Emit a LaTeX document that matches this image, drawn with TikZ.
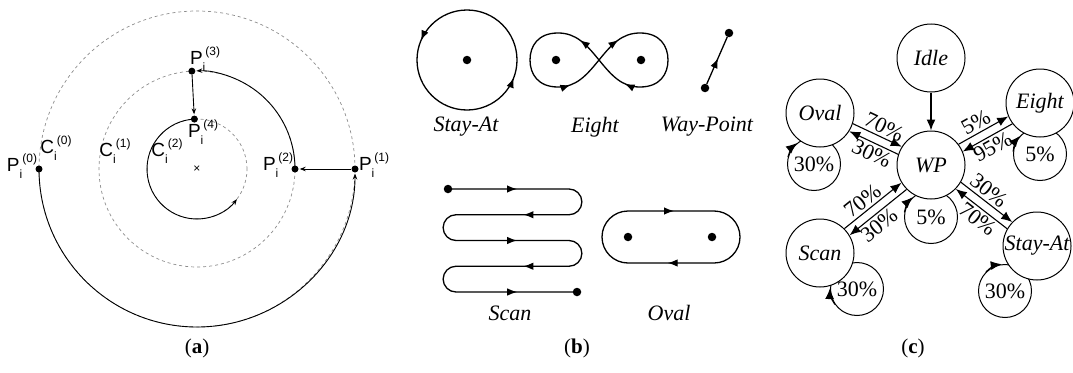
\documentclass[tikz,border=0pt]{standalone}
\usepackage{fontspec}
\setmainfont{Liberation Serif}
\setsansfont{Liberation Sans}
\usetikzlibrary{arrows.meta,calc,positioning,decorations.markings}

\tikzstyle{pointdot} = [circle, fill=black, inner sep=0pt, minimum size=7pt]
\tikzstyle{bigdot} = [circle, fill=black, inner sep=0pt, minimum size=8.5pt]
\tikzstyle{guide} = [draw, color=black!45, line width=0.7pt, dash pattern=on 3pt off 3pt]
\tikzstyle{track} = [draw, line width=0.9pt, -{Stealth[length=6pt,width=4.5pt]}, shorten >=1pt]
\tikzstyle{plabel} = [inner sep=0pt, font=\sffamily\fontsize{19}{19}\selectfont]
\tikzstyle{flight} = [draw, line width=1.3pt]
\tikzstyle{caption} = [font=\fontsize{22}{26}\selectfont\itshape]
\tikzstyle{statenode} = [draw, circle, fill=white, line width=1pt, minimum size=68pt,
  inner sep=0pt, font=\fontsize{22}{26}\selectfont\itshape]
\tikzstyle{loopstate} = [draw, circle, line width=1pt, minimum size=53pt, inner sep=0pt]
\tikzstyle{line} = [draw, line width=1.1pt, -{Latex[length=11pt,width=9pt]}]
\tikzstyle{prob} = [sloped, inner sep=2.5pt]
\tikzstyle{panel} = [font=\fontsize{21}{24}\selectfont]
\tikzset{arrowat/.style={postaction={decorate, decoration={markings,
  mark=at position #1 with {\arrow{Latex[length=10pt,width=7.5pt]}}}}}}
% point label with subscript i and an index on top
\newcommand{\pidx}[2]{#1\raisebox{-0.36em}{\fontsize{12}{12}\selectfont i}%
  \raisebox{0.48em}{\fontsize{12}{12}\selectfont(#2)}}
% arrow head of a self loop, drawn on the loop circle
\newcommand{\looptip}[3]{\path [line] (#1.#2) arc[start angle=#2, end angle=#3, radius=27pt];}

\begin{document}
\begin{tikzpicture}[x=1pt, y=-1pt, font=\fontsize{22}{26}\selectfont]
  \useasboundingbox (0,0) rectangle (1073,372);

  % circles of panel a
  \node[inner sep=0pt, font=\sffamily\fontsize{12}{12}\selectfont] (CENTER) at (197,169) {×};
  \path[guide] (CENTER.center) circle[radius=158pt];
  \path[guide] (CENTER.center) circle[radius=98pt];
  \path[guide] (CENTER.center) circle[radius=50pt];

  \node[pointdot] (P0) at ($(CENTER.center)+(180:158pt)$) {};
  \node[pointdot] (P1) at ($(CENTER.center)+(0:158pt)$) {};
  \node[pointdot] (P2) at ($(CENTER.center)+(0:98pt)$) {};
  \node[pointdot] (P3) at ($(CENTER.center)+(93:98pt)$) {};
  \node[pointdot] (P4) at ($(CENTER.center)+(93:50pt)$) {};

  \path[track, shorten >=4.5pt] (P0.center) arc[start angle=180, end angle=360, radius=158pt];
  \path[track] (P1) -- (P2);
  \path[track, shorten >=4.5pt] (P2.center) arc[start angle=0, end angle=93, radius=98pt];
  \path[track] (P3) -- (P4);
  \path[track, shorten >=0pt] (P4.center) arc[start angle=93, end angle=323, radius=50pt];

  \node[plabel] (LP0) at (22,166) {\pidx{P}{0}};
  \node[plabel] (LP1) at (374,165) {\pidx{P}{1}};
  \node[plabel] (LP2) at (278,165) {\pidx{P}{2}};
  \node[plabel] (LP3) at (205,59) {\pidx{P}{3}};
  \node[plabel] (LP4) at (203,132) {\pidx{P}{4}};
  \node[plabel] (LC0) at (56,148) {\pidx{C}{0}};
  \node[plabel] (LC1) at (115,151) {\pidx{C}{1}};
  \node[plabel] (LC2) at (167,151) {\pidx{C}{2}};

  % trajectory shapes of panel b
  \node[bigdot] (STAYDOT) at (467,60) {};
  \path[flight, arrowat=137pt, arrowat=296pt] ($(STAYDOT.center)+(0:50pt)$)
    arc[start angle=0, end angle=360, radius=50pt];

  \node[bigdot] (EIGHTL) at (556,60) {};
  \node[bigdot] (EIGHTR) at (641,60) {};
  \path[flight, arrowat=28pt, arrowat=155pt, arrowat=218pt, arrowat=342pt] (599,60)
    .. controls (612,44) and (622,33) .. (640,33) .. controls (660,33) and (668,46) .. (668,60)
    .. controls (668,74) and (660,87) .. (640,87) .. controls (622,87) and (612,76) .. (599,60)
    .. controls (586,44) and (576,33) .. (558,33) .. controls (538,33) and (530,46) .. (530,60)
    .. controls (530,74) and (538,87) .. (558,87) .. controls (576,87) and (586,76) .. (599,60);

  \node[bigdot] (WPA) at (705,88) {};
  \node[bigdot] (WPB) at (729,33) {};
  \path[flight, arrowat=0.55] (WPA) -- (WPB);

  \node[caption] (STAYCAP) at (466,127) {Stay-At};
  \node[caption] (EIGHTCAP) at (595,127) {Eight};
  \node[caption] (WAYCAP) at (707,127) {Way-Point};

  \node[bigdot] (SCANA) at (448,189) {};
  \node[bigdot] (SCANB) at (577,292) {};
  \path[flight, arrowat=69pt, arrowat=207pt, arrowat=376pt, arrowat=514pt, arrowat=683pt]
    (SCANA.center) -- (569,189) arc[start angle=90, end angle=-90, radius=12.875pt]
    -- (456,214.75) arc[start angle=90, end angle=270, radius=12.875pt]
    -- (569,240.5) arc[start angle=90, end angle=-90, radius=12.875pt]
    -- (456,266.25) arc[start angle=90, end angle=270, radius=12.875pt]
    -- (SCANB.center);

  \node[bigdot] (OVALL) at (628,237) {};
  \node[bigdot] (OVALR) at (712,237) {};
  \path[flight, arrowat=46pt, arrowat=214pt] (628,211) -- (714,211)
    arc[start angle=90, end angle=-90, radius=26pt] -- (628,263)
    arc[start angle=270, end angle=90, radius=26pt] -- cycle;

  \node[caption] (SCANCAP) at (510,313) {Scan};
  \node[caption] (OVALCAP) at (669,313) {Oval};

  % state machine of panel c
  \node[loopstate] (OVALLOOP) at (814,164) {30\%};
  \node[loopstate] (WPLOOP) at (931,217) {5\%};
  \node[loopstate] (EIGHTLOOP) at (1040,154) {5\%};
  \node[loopstate] (SCANLOOP) at (857,289) {30\%};
  \node[loopstate] (STAYLOOP) at (1005,291) {30\%};

  \node[statenode] (IDLE) at (931,58) {Idle};
  \node[statenode] (WP) at (931,165) {WP};
  \node[statenode] (OVAL) at (820,113) {Oval};
  \node[statenode] (EIGHT) at (1040,103) {Eight};
  \node[statenode] (SCAN) at (820,253) {Scan};
  \node[statenode] (STAYAT) at (1037,246) {Stay-At};

  \path [line, line width=1.5pt] (IDLE) -- (WP);
  \path [line] (OVAL.-18) -- node[prob, above, pos=0.55] {70\%} (WP.148);
  \path [line] (WP.162) -- node[prob, below, pos=0.45] {30\%} (OVAL.-32);
  \path [line] (WP.37) -- node[prob, above, pos=0.45] {5\%} (EIGHT.203);
  \path [line] (EIGHT.217) -- node[prob, below, pos=0.5] {95\%} (WP.23);
  \path [line] (SCAN.45) -- node[prob, above, pos=0.43] {70\%} (WP.211);
  \path [line] (WP.225) -- node[prob, below, pos=0.6] {30\%} (SCAN.31);
  \path [line] (WP.-30) -- node[prob, above, pos=0.42] {30\%} (STAYAT.136);
  \path [line] (STAYAT.150) -- node[prob, below, pos=0.45] {70\%} (WP.-44);

  \looptip{OVALLOOP}{165}{129}
  \looptip{WPLOOP}{170}{133}
  \looptip{EIGHTLOOP}{175}{138}
  \looptip{SCANLOOP}{215}{178}
  \looptip{STAYLOOP}{135}{97}

  % panel labels
  \node[panel] (LABELA) at (197,348) {(\textbf{a})};
  \node[panel] (LABELB) at (577,348) {(\textbf{b})};
  \node[panel] (LABELC) at (913,348) {(\textbf{c})};
\end{tikzpicture}
\end{document}
